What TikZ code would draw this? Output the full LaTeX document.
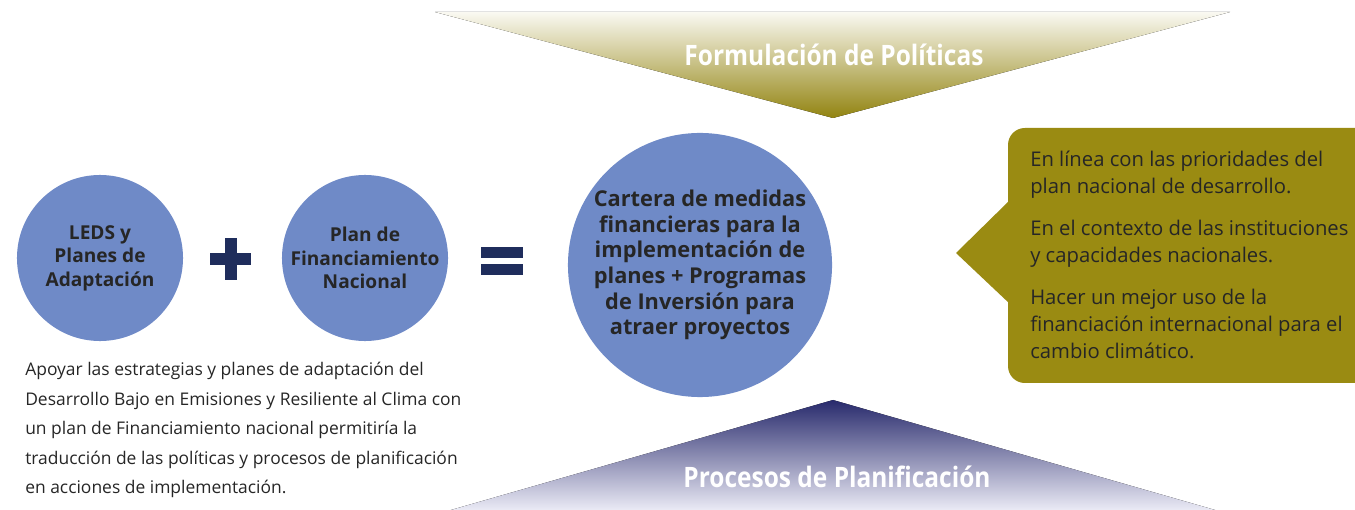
\documentclass[tikz,border=0pt]{standalone}
\usepackage{fontspec}
\setmainfont{Open Sans}
\newfontfamily\titlefont[FakeStretch=0.87]{Open Sans}
\usetikzlibrary{positioning}
\definecolor{circblue}{RGB}{111,138,199}
\definecolor{navyink}{RGB}{31,45,92}
\definecolor{olivebox}{RGB}{154,139,18}
\definecolor{creamtop}{RGB}{250,249,242}
\definecolor{deepblue}{RGB}{40,42,108}
\definecolor{paleblue}{RGB}{238,238,248}
\definecolor{inkgray}{RGB}{38,38,38}
\tikzset{
    circnode/.style = {circle, fill=circblue, align=center, inner sep=0pt, minimum size=4.15cm, text=inkgray, font=\bfseries\fontsize{13.6}{16.7}\selectfont},
    bigcirc/.style = {circle, fill=circblue, align=center, inner sep=0pt, minimum size=6.6cm, text=inkgray, font=\bfseries\fontsize{15.5}{18.2}\selectfont},
    titletext/.style = {text=white, font=\titlefont\bfseries\fontsize{20}{22}\selectfont},
    sidetext/.style = {align=left, inner sep=0pt, text=inkgray, font=\fontsize{12.4}{21}\selectfont},
    boxtext/.style = {align=left, inner sep=0pt, text=inkgray, font=\fontsize{14.4}{19.2}\selectfont},
    opbar/.style = {fill=navyink}
}

\begin{document}
\begin{tikzpicture}[x=0.025cm,y=-0.025cm]
\useasboundingbox (0,0) rectangle (1355,510);
%
% triangles
\fill[top color=creamtop, bottom color=olivebox!95!black] (435,12) -- (1230,12) -- (833,118) -- cycle;
\fill[top color=deepblue, bottom color=paleblue] (833,400) -- (1222,512) -- (444,512) -- cycle;
\node[titletext] (polit) at (834,55) {Formulación de Políticas};
\node[titletext] (plani) at (837,477) {Procesos de Planificación};
%
% circles
\node[circnode] (leds) at (100,258) {LEDS y\\Planes de\\Adaptación};
\node[circnode] (finan) at (365,258) {Plan de\\Financiamiento\\Nacional};
\node[bigcirc] (cartera) at (700,265) {Cartera de medidas\\financieras para la\\implementación de\\planes + Programas\\de Inversión para\\atraer proyectos};
%
% plus and equals
\fill[opbar] (210,253) rectangle (251,265);
\fill[opbar] (225,238) rectangle (237,280);
\fill[opbar] (481,247) rectangle (523,258);
\fill[opbar] (481,264) rectangle (523,275);
%
% callout
\fill[olivebox, rounded corners=12] (1008,128) rectangle (1375,383);
\fill[olivebox] (1010,200) -- (956,253) -- (1010,304) -- cycle;
\node[boxtext, anchor=north west] (prior) at (1030,151) {En línea con las prioridades del\\plan nacional de desarrollo.\\[10.5pt]En el contexto de las instituciones\\y capacidades nacionales.\\[10.5pt]Hacer un mejor uso de la\\financiación internacional para el\\cambio climático.};
%
% left text
\node[sidetext, anchor=north west] (apoyo) at (25,362) {Apoyar las estrategias y planes de adaptación del\\Desarrollo Bajo en Emisiones y Resiliente al Clima con\\un plan de Financiamiento nacional permitiría la\\traducción de las políticas y procesos de planificación\\en acciones de implementación.};
\end{tikzpicture}
\end{document}
